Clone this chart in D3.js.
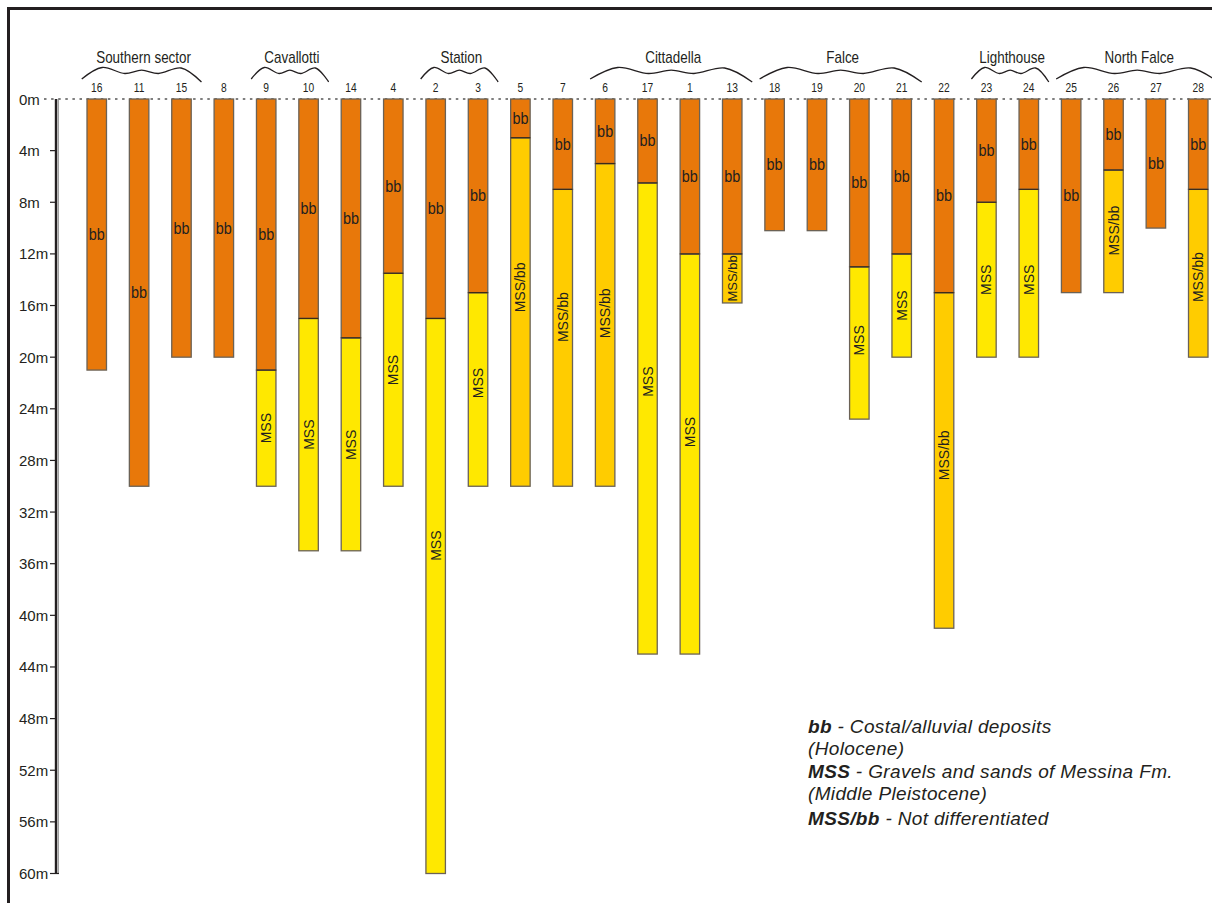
<!DOCTYPE html>
<html>
<head>
<meta charset="utf-8">
<script src="https://cdn.jsdelivr.net/npm/d3@7"></script>
<style>
  html, body { margin: 0; padding: 0; background: #fff; }
  svg { display: block; }
  text { fill: #231f20; }
</style>
</head>
<body>
<svg id="chart" width="1212" height="903"></svg>
<script>
// Boreholes in section order (west to east)
const boreIds = ["16","11","15","8","9","10","14","4","2","3","5","7","6","17","1","13",
                 "18","19","20","21","22","23","24","25","26","27","28"];
// Base of the upper bb unit (m below ground)
const bbBase = [21,30,20,20,21,17,18.5,13.5,17,15,3,7,5,6.5,12,12,
                10.2,10.2,13,12,15,8,7,15,5.5,10,7];
// Lower unit reached by each borehole, and its base (m)
const lowerUnit = [null,null,null,null,"MSS","MSS","MSS","MSS","MSS","MSS","MSS/bb","MSS/bb","MSS/bb","MSS","MSS","MSS/bb",
                   null,null,"MSS","MSS","MSS/bb","MSS","MSS",null,"MSS/bb",null,"MSS/bb"];
const lowerBase = [null,null,null,null,30,35,35,30,60,30,30,30,30,43,43,15.8,
                   null,null,24.8,20,41,20,20,null,15,null,20];
// Depth (m) at which the lower unit is labelled
const lowerLabelDepth = [null,null,null,null,25.5,26,26.8,21,34.6,22,14.6,16.9,16.6,21.9,25.8,13.9,
                         null,null,18.7,16,27.6,14,14,null,10.2,null,13.8];

// Sectors along the coast
const groupNames = ["Southern sector","Cavallotti","Station","Cittadella","Falce","Lighthouse","North Falce"];
const groupFirst = ["16","9","2","6","18","23","25"];
const groupLast  = ["15","10","3","13","21","24","28"];

// Depth axis
const depthTicks = d3.range(0, 61, 4);

// Legend lines
const legendKeys  = ["bb", "", "MSS", "", "MSS/bb"];
const legendTexts = [" - Costal/alluvial deposits", "(Holocene)", " - Gravels and sands of Messina Fm.",
                     "(Middle Pleistocene)", " - Not differentiated"];

const unitColor = { "bb": "#e8780a", "MSS": "#ffe800", "MSS/bb": "#ffcc00" };

const FONT = "'Liberation Sans', Arial, Helvetica, sans-serif";
const svg = d3.select("#chart");
const W = 1212, H = 903;

const x = d3.scaleBand().domain(boreIds).range([87, 1208]).paddingInner(0.54).paddingOuter(0);
const y = d3.scaleLinear().domain([0, 60]).range([99, 873.5]);
const cx = id => x(id) + x.bandwidth() / 2;

// Frame (top and left rules)
svg.append("line").attr("x1", 8).attr("x2", W).attr("y1", 8.5).attr("y2", 8.5)
  .attr("stroke", "#231f20").attr("stroke-width", 3);
svg.append("line").attr("x1", 8.5).attr("x2", 8.5).attr("y1", 7).attr("y2", H)
  .attr("stroke", "#231f20").attr("stroke-width", 3);

// Ground level (0 m) dotted line
svg.append("line").attr("x1", 44).attr("x2", W).attr("y1", y(0)).attr("y2", y(0))
  .attr("stroke", "#555").attr("stroke-width", 1.4).attr("stroke-dasharray", "2.5,4.6");

// Depth axis: double rule with ticks
const axisX = 56;
svg.append("line").attr("x1", axisX).attr("x2", axisX).attr("y1", y(0)).attr("y2", y(60))
  .attr("stroke", "#231f20").attr("stroke-width", 2.4);
svg.append("line").attr("x1", axisX + 2.2).attr("x2", axisX + 2.2).attr("y1", y(0)).attr("y2", y(60) + 0.5)
  .attr("stroke", "#8a8a8a").attr("stroke-width", 1.2);
svg.append("line").attr("x1", axisX).attr("x2", axisX + 3).attr("y1", y(60)).attr("y2", y(60))
  .attr("stroke", "#231f20").attr("stroke-width", 1.2);

const tickG = svg.append("g");
tickG.selectAll("line").data(depthTicks.filter(d => d > 0)).join("line")
  .attr("x1", 50).attr("x2", axisX).attr("y1", d => y(d)).attr("y2", d => y(d))
  .attr("stroke", "#231f20").attr("stroke-width", 1.2);
tickG.selectAll("text").data(depthTicks).join("text")
  .attr("x", 19).attr("y", d => y(d) + 5.5)
  .attr("font-family", FONT).attr("font-size", 15)
  .text(d => d + "m");

// Borehole columns
const cols = svg.append("g");
boreIds.forEach((id, i) => {
  const g = cols.append("g");
  const bw = x.bandwidth();
  // lower unit first, then bb on top
  if (lowerUnit[i]) {
    g.append("rect").attr("x", x(id)).attr("width", bw)
      .attr("y", y(bbBase[i])).attr("height", y(lowerBase[i]) - y(bbBase[i]))
      .attr("fill", unitColor[lowerUnit[i]]).attr("stroke", "#6b6256").attr("stroke-width", 1.3);
  }
  g.append("rect").attr("x", x(id)).attr("width", bw)
    .attr("y", y(0)).attr("height", y(bbBase[i]) - y(0))
    .attr("fill", unitColor.bb).attr("stroke", "#6b6256").attr("stroke-width", 1.3);
  if (lowerUnit[i]) {
    g.append("line").attr("x1", x(id)).attr("x2", x(id) + bw)
      .attr("y1", y(bbBase[i])).attr("y2", y(bbBase[i]))
      .attr("stroke", "#3a2a1a").attr("stroke-width", 1.2);
  }
  // bb label, centred in its interval
  g.append("text")
    .attr("transform", `translate(${cx(id)},${y(bbBase[i] / 2) + 5.5}) scale(0.9,1)`)
    .attr("text-anchor", "middle")
    .attr("font-family", FONT).attr("font-size", 16)
    .text("bb");
  // lower unit label, vertical
  if (lowerUnit[i]) {
    g.append("text")
      .attr("transform", `translate(${cx(id) + 5},${y(lowerLabelDepth[i])}) rotate(-90)`)
      .attr("text-anchor", "middle")
      .attr("font-family", FONT).attr("font-size", lowerBase[i] - bbBase[i] < 5 ? 13 : 14)
      .text(lowerUnit[i]);
  }
});

// Borehole numbers
svg.append("g").selectAll("text").data(boreIds).join("text")
  .attr("transform", d => `translate(${cx(d)},92) scale(0.82,1)`)
  .attr("text-anchor", "middle")
  .attr("font-family", FONT)
  .attr("font-size", 12.5)
  .text(d => d);

// Sector braces and names
const braceLine = d3.line().curve(d3.curveCatmullRom.alpha(0.5));
const braceG = svg.append("g");
groupNames.forEach((name, k) => {
  const x0 = cx(groupFirst[k]) - 15;
  const x1 = cx(groupLast[k]) + 20;
  const w = x1 - x0;
  const pts = [
    [x0, 79], [x0 + w * 0.17, 67.5], [x0 + w * 0.36, 73.5], [x0 + w * 0.5, 70.2],
    [x0 + w * 0.64, 73.5], [x0 + w * 0.83, 68], [x1, 82]
  ];
  braceG.append("path").attr("d", braceLine(pts))
    .attr("fill", "none").attr("stroke", "#231f20").attr("stroke-width", 1.3);
  braceG.append("text")
    .attr("transform", `translate(${x0 + w / 2 + 2},63) scale(0.84,1)`)
    .attr("text-anchor", "middle")
    .attr("font-family", FONT)
    .attr("font-size", 16)
    .text(name);
});

// Legend
const leg = svg.append("g").attr("font-family", FONT)
  .attr("font-size", 19).attr("font-style", "italic").attr("letter-spacing", 0.35);
const legBase = [733, 755, 778, 800, 825];
legendTexts.forEach((t, k) => {
  const tx = leg.append("text").attr("x", 808).attr("y", legBase[k]);
  if (legendKeys[k]) tx.append("tspan").attr("font-weight", "bold").text(legendKeys[k]);
  tx.append("tspan").text(t);
});
</script>
</body>
</html>
